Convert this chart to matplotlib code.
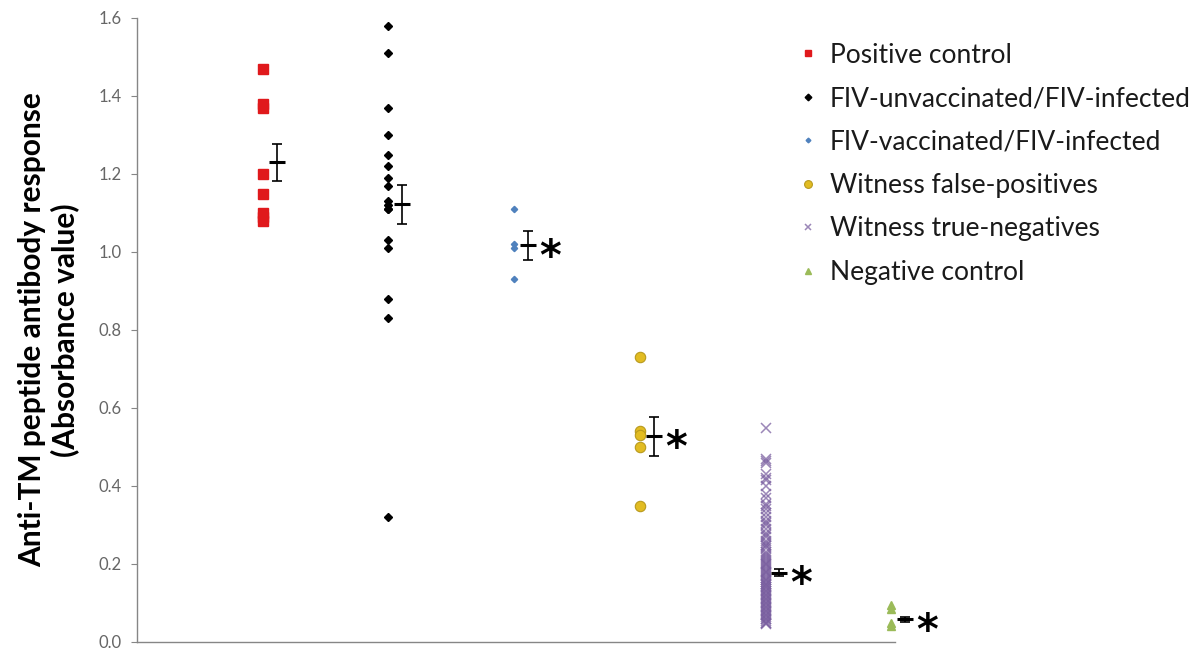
import matplotlib
matplotlib.use("Agg")
import matplotlib.pyplot as plt
import numpy as np

# ---------------- data ----------------
groups = ["Positive control", "FIV-unvaccinated/FIV-infected", "FIV-vaccinated/FIV-infected",
          "Witness false-positives", "Witness true-negatives", "Negative control"]

positive_control = [1.47, 1.38, 1.37, 1.20, 1.15, 1.10, 1.09, 1.08]
fiv_unvaccinated = [1.58, 1.51, 1.37, 1.30, 1.25, 1.22, 1.19, 1.17, 1.13, 1.12, 1.11, 1.11,
                    1.03, 1.01, 0.88, 0.83, 0.32]
fiv_vaccinated = [1.11, 1.02, 1.01, 0.93]
witness_false_pos = [0.73, 0.54, 0.53, 0.50, 0.35]
witness_true_neg = [0.55, 0.47, 0.465, 0.46, 0.43, 0.42, 0.415, 0.40, 0.38, 0.37, 0.355, 0.35,
                    0.34, 0.33, 0.32, 0.31, 0.305, 0.30, 0.29, 0.28, 0.275, 0.27, 0.26, 0.255,
                    0.25, 0.245, 0.24, 0.23, 0.225, 0.22, 0.215, 0.21, 0.205, 0.20, 0.20, 0.195,
                    0.19, 0.185, 0.18, 0.18, 0.175, 0.17, 0.165, 0.16, 0.16, 0.155, 0.15, 0.15,
                    0.145, 0.14, 0.14, 0.135, 0.13, 0.13, 0.125, 0.12, 0.12, 0.115, 0.11, 0.11,
                    0.105, 0.10, 0.10, 0.095, 0.09, 0.09, 0.085, 0.08, 0.08, 0.075, 0.07, 0.07,
                    0.065, 0.06, 0.06, 0.055, 0.05, 0.05, 0.045]
negative_control = [0.095, 0.085, 0.05, 0.04]

group_means = [1.23, 1.123, 1.017, 0.527, 0.178, 0.058]
group_se = [0.047, 0.050, 0.038, 0.050, 0.010, 0.006]
significant = [False, False, True, True, True, True]

series = [positive_control, fiv_unvaccinated, fiv_vaccinated,
          witness_false_pos, witness_true_neg, negative_control]

styles = [
    dict(marker="s", ms=6.5, mfc="#E0191C", mec="#E0191C", alpha=1.0),
    dict(marker="D", ms=4.5, mfc="black", mec="black", alpha=1.0),
    dict(marker="D", ms=3.2, mfc="#4F81BD", mec="#4F81BD", alpha=1.0),
    dict(marker="o", ms=7.5, mfc="#E2BC22", mec="#B89A1E", mew=0.8, alpha=1.0),
    dict(marker="x", ms=6.5, mfc="none", mec="#7A5FA0", mew=1.1, alpha=0.75),
    dict(marker="^", ms=5.5, mfc="#9BBB59", mec="#9BBB59", alpha=1.0),
]

# ---------------- figure ----------------
fig = plt.figure(figsize=(11.96, 6.53), dpi=100)
ax = fig.add_axes([137 / 1196, 1 - 642 / 653, (895 - 137) / 1196, (642 - 18) / 653])

font = "Lato"
gray = "#868686"

handles = []
for i, (vals, st) in enumerate(zip(series, styles)):
    xpos = np.full(len(vals), i + 1.0)
    h, = ax.plot(xpos, vals, ls="none", clip_on=False, label=groups[i], **st)
    handles.append(h)

off = 0.11
for i, (m, se, sig) in enumerate(zip(group_means, group_se, significant)):
    x = i + 1 + off
    ax.errorbar([x], [m], yerr=[se], fmt="none", ecolor="black", elinewidth=1.2,
                capsize=3.5, capthick=1.2, clip_on=False)
    ax.plot([x], [m], marker="_", ms=11, mew=2.2, color="black", clip_on=False)
    if sig:
        ax.annotate("*", xy=(x, m), xytext=(8, -9), textcoords="offset points",
                    fontsize=30, family="DejaVu Sans", fontweight="bold",
                    ha="left", va="center", annotation_clip=False)

ax.set_xlim(0, 6.03)
ax.set_ylim(0, 1.6)
ax.set_yticks(np.arange(0, 1.61, 0.2))
ax.set_yticklabels([f"{v:.1f}" for v in np.arange(0, 1.61, 0.2)])
ax.set_xticks([])
for s in ["top", "right"]:
    ax.spines[s].set_visible(False)
for s in ["left", "bottom"]:
    ax.spines[s].set_color(gray)
    ax.spines[s].set_linewidth(1.0)
ax.tick_params(axis="y", direction="out", length=4, color=gray, labelsize=12,
               labelcolor="#666666", pad=7)
for lab in ax.get_yticklabels():
    lab.set_family(font)

fig.text(32 / 1196, 1 - 330 / 653, "Anti-TM peptide antibody response", rotation=90,
         ha="center", va="center", fontsize=21.5, fontweight="bold", family=font)
fig.text(65 / 1196, 1 - 330 / 653, "(Absorbance value)", rotation=90,
         ha="center", va="center", fontsize=21.5, fontweight="bold", family=font)

leg = fig.legend(handles=handles, loc="upper left", bbox_to_anchor=(786 / 1196, 1 - 32 / 653),
                 frameon=False, prop={"family": font, "size": 19}, markerscale=0.75,
                 handlelength=0.9, handletextpad=0.35, labelspacing=0.70, borderaxespad=0)
for t in leg.get_texts():
    t.set_color("#1a1a1a")

fig.savefig("out.png", dpi=100)
